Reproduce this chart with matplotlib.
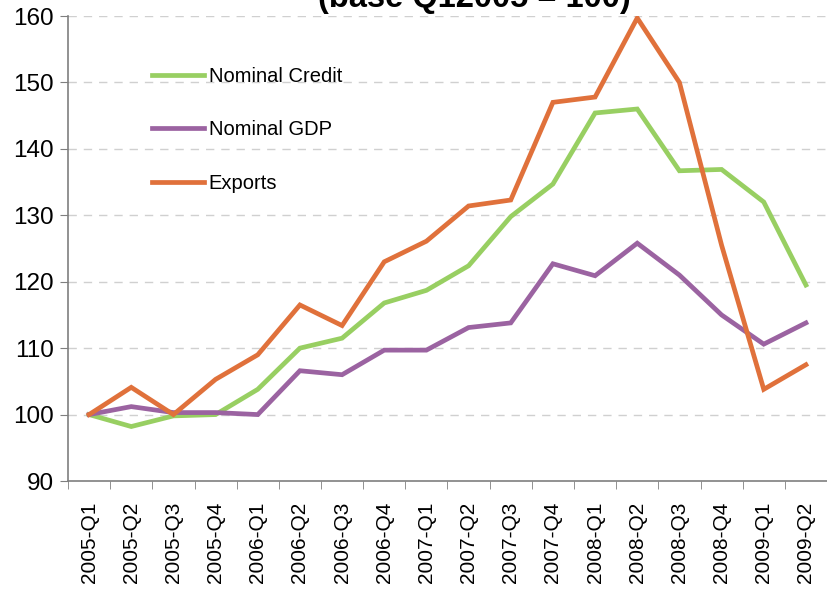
import matplotlib
matplotlib.use("Agg")
import matplotlib.pyplot as plt
import numpy as np

categories = ["2005-Q1", "2005-Q2", "2005-Q3", "2005-Q4", "2006-Q1", "2006-Q2",
              "2006-Q3", "2006-Q4", "2007-Q1", "2007-Q2", "2007-Q3", "2007-Q4",
              "2008-Q1", "2008-Q2", "2008-Q3", "2008-Q4", "2009-Q1", "2009-Q2"]
nominal_credit = [100, 98.2, 99.8, 100, 103.8, 110, 111.5, 116.8, 118.7, 122.4,
                  129.8, 134.7, 145.4, 146, 136.7, 136.9, 132, 119.5]
nominal_gdp = [100, 101.2, 100.3, 100.3, 100, 106.6, 106, 109.7, 109.7, 113.1,
               113.8, 122.7, 120.9, 125.8, 121, 115, 110.6, 113.8]
exports = [100, 104.1, 100, 105.3, 109, 116.5, 113.4, 123, 126.1, 131.4,
           132.3, 147, 147.8, 159.7, 150, 125.5, 103.8, 107.5]
yticks = [90, 100, 110, 120, 130, 140, 150, 160]

regular = ["Liberation Sans", "DejaVu Sans"]

fig = plt.figure(figsize=(8.27, 5.92), dpi=100)
ax = fig.add_axes([68/827, 1-481/592, 1-68/827, (481-16)/592])

x = np.arange(len(categories))
lw = 3.4
ax.plot(x, nominal_credit, color="#98CF62", lw=lw, label="Nominal Credit", solid_joinstyle="miter")
ax.plot(x, nominal_gdp, color="#9B63A1", lw=lw, label="Nominal GDP", solid_joinstyle="miter")
ax.plot(x, exports, color="#E0713B", lw=lw, label="Exports", solid_joinstyle="miter")

ax.set_xlim(-0.5, len(categories) - 0.5)
ax.set_ylim(90, 160)
ax.set_yticks(yticks)
ax.set_yticklabels([str(v) for v in yticks], fontfamily=regular, fontsize=17.5)
ax.set_xticks(x)
ax.set_xticklabels(categories, rotation=90, fontfamily=regular, fontsize=15)
ax.set_xticks(np.arange(len(categories) + 1) - 0.5, minor=True)
ax.tick_params(axis="x", which="major", length=0, pad=15)
ax.tick_params(axis="x", which="minor", length=6, color="#7f7f7f")
ax.tick_params(axis="y", length=6, color="#7f7f7f", pad=4)

for v in yticks[1:]:
    ax.axhline(v, color="#d0d0d0", lw=1, ls=(0, (6, 5)), zorder=0)

for s in ["top", "right"]:
    ax.spines[s].set_visible(False)
for s in ["left", "bottom"]:
    ax.spines[s].set_color("#7f7f7f")
    ax.spines[s].set_linewidth(1.2)

leg = ax.legend(loc="upper left", bbox_to_anchor=(0.087, 0.93), frameon=False,
                handlelength=2.55, handletextpad=0.25, labelspacing=1.72,
                prop={"family": regular, "size": 14.5})

fig.text(474/827, 1 - 7/592, "(base Q12005 = 100)", ha="center", va="baseline",
         fontfamily=regular, fontweight="bold", fontsize=23.5)

fig.savefig("out.png", dpi=100)
